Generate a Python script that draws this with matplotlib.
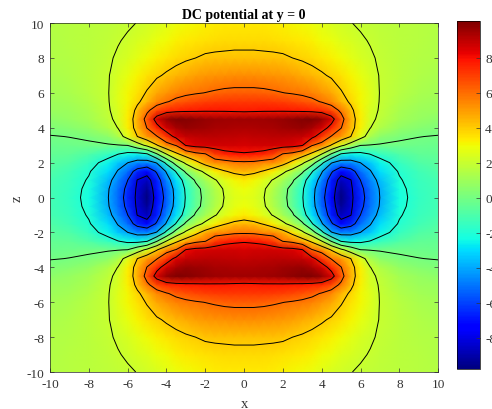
import numpy as np
import matplotlib
matplotlib.use("Agg")
import matplotlib.pyplot as plt

plt.rcParams['font.family'] = ['Liberation Serif', 'DejaVu Serif']
plt.rcParams['axes.unicode_minus'] = False

# the field is mirror symmetric in x and in z
x_q = [-10, -9, -8, -7, -6.5, -6, -5.5, -5, -4.5, -4, -3.5, -3, -2.5, -2, -1.5, -1, -0.5, 0]
z_q = [0, 0.5, 1, 1.5, 2, 2.5, 3, 3.5, 4, 4.5, 5, 5.5, 6, 7, 8, 9, 10]

v_z00 = [-1.2, -1.6, -2.3, -3.98, -5.2, -6.6, -8.4, -9.8, -7.2, -5.5, -3.5, -1.9, -0.6, 0.4, 1.3, 2.05, 2.5, 2.7]
v_z05 = [-1.2, -1.55, -2.25, -3.9, -5.1, -6.4, -8.3, -9.4, -7.0, -5.3, -3.4, -1.8, -0.5, 0.5, 1.4, 2.15, 2.65, 2.9]
v_z10 = [-1.1, -1.45, -2.1, -3.6, -4.7, -5.98, -8.05, -8.7, -6.8, -4.7, -2.95, -1.4, 0.2, 1.1, 1.9, 2.6, 3.1, 3.4]
v_z15 = [-0.9, -1.25, -1.9, -3.0, -4.1, -5.2, -6.6, -7.3, -5.8, -3.85, -1.9, 0.3, 1.4, 2.3, 3.2, 3.9, 4.3, 4.45]
v_z20 = [-0.65, -0.9, -1.5, -2.5, -3.4, -3.98, -4.6, -4.7, -3.9, -1.6, 0.8, 2.3, 3.5, 4.6, 5.3, 5.4, 5.7, 5.75]
v_z25 = [-0.45, -0.5, -0.9, -1.5, -1.95, -2.4, -2.5, -2.1, -0.1, 2.05, 3.7, 4.8, 5.6, 5.95, 7.0, 7.6, 7.8, 7.9]
v_z30 = [-0.25, -0.2, -0.15, -0.1, -0.05, 0.05, 1.2, 2.4, 3.9, 5.4, 6.1, 8.1, 8.5, 8.6, 8.7, 8.7, 8.65, 8.6]
v_z35 = [-0.05, 0.02, 0.15, 0.6, 1.3, 2.6, 4.0, 5.1, 5.9, 7.2, 8.4, 8.9, 9.0, 9.05, 9.05, 9.0, 8.95, 8.9]
v_z40 = [0.3, 0.45, 0.75, 1.4, 2.03, 3.2, 4.5, 6.05, 7.5, 8.7, 9.4, 9.7, 9.6, 9.5, 9.4, 9.35, 9.3, 9.3]
v_z45 = [0.6, 0.8, 1.1, 1.75, 2.3, 3.3, 4.6, 6.6, 8.6, 9.7, 10.1, 10.0, 9.8, 9.7, 9.6, 9.55, 9.5, 9.5]
v_z50 = [0.85, 1.0, 1.3, 1.9, 2.4, 3.2, 4.3, 5.7, 6.8, 7.4, 7.6, 7.7, 7.75, 7.8, 7.8, 7.8, 7.75, 7.7]
v_z55 = [1.0, 1.15, 1.45, 1.95, 2.5, 3.1, 3.8, 4.5, 5.4, 5.9, 6.3, 6.6, 6.8, 6.95, 7.05, 7.1, 7.1, 7.1]
v_z60 = [1.15, 1.3, 1.55, 1.97, 2.5, 3.05, 3.55, 4.1, 4.75, 5.2, 5.55, 5.75, 5.9, 6.02, 6.15, 6.25, 6.3, 6.3]
v_z70 = [1.3, 1.45, 1.65, 1.95, 2.35, 2.75, 3.15, 3.5, 3.85, 4.15, 4.45, 4.7, 4.9, 5.05, 5.15, 5.25, 5.3, 5.3]
v_z80 = [1.4, 1.5, 1.7, 1.9, 2.1, 2.4, 2.7, 2.95, 3.2, 3.45, 3.65, 3.85, 4.0, 4.15, 4.2, 4.22, 4.25, 4.25]
v_z90 = [1.45, 1.55, 1.7, 1.85, 1.95, 2.1, 2.35, 2.55, 2.8, 3.0, 3.2, 3.35, 3.45, 3.55, 3.62, 3.67, 3.7, 3.7]
v_z100 = [1.5, 1.55, 1.65, 1.75, 1.82, 1.9, 2.02, 2.2, 2.4, 2.6, 2.8, 2.95, 3.1, 3.2, 3.3, 3.35, 3.38, 3.4]

contour_levels = [-8, -6, -4, -2, 0, 2, 4, 6, 8]
cbar_ticks = [-8, -6, -4, -2, 0, 2, 4, 6, 8]
axis_ticks = [-10, -8, -6, -4, -2, 0, 2, 4, 6, 8, 10]

# build full grid by mirroring the quadrant
quad = np.array([v_z00, v_z05, v_z10, v_z15, v_z20, v_z25, v_z30, v_z35, v_z40,
                 v_z45, v_z50, v_z55, v_z60, v_z70, v_z80, v_z90, v_z100])
x_full = np.array(x_q + [-v for v in x_q[-2::-1]])
z_full = np.array([-v for v in z_q[:0:-1]] + z_q)
half = np.hstack([quad, quad[:, -2::-1]])
V = np.vstack([half[:0:-1], half])
X, Z = np.meshgrid(x_full, z_full)

fig = plt.figure(figsize=(4.92, 4.10), dpi=100)
ax = fig.add_axes([0.1016, 0.0902, 0.789, 0.851])
cax = fig.add_axes([0.929, 0.0976, 0.047, 0.8485])

mesh = ax.pcolormesh(X, Z, V, shading='gouraud', cmap='jet', vmin=-9.8, vmax=10.1)
ax.contour(X, Z, V, levels=contour_levels, colors='k', linewidths=0.7,
           linestyles='solid')

ax.set_xlim(-10, 10)
ax.set_ylim(-10, 10)
ax.set_xticks(axis_ticks)
ax.set_yticks(axis_ticks)
ax.tick_params(direction='in', top=True, right=True, length=3, width=0.5,
               labelsize=9.5, colors='#333333', pad=4)
for s in ax.spines.values():
    s.set_linewidth(0.5)
    s.set_color('#262626')

ax.set_title('DC potential at y = 0', fontsize=10, fontweight='bold', pad=4)
ax.set_xlabel('x', fontsize=10.5, color='#333333', labelpad=5)
ax.set_ylabel('z', fontsize=10.5, color='#333333', labelpad=2)

cb = fig.colorbar(mesh, cax=cax, ticks=cbar_ticks)
cb.ax.tick_params(direction='in', length=3, width=0.5, labelsize=9.5,
                  colors='#333333')
cb.outline.set_linewidth(0.5)

fig.savefig('out.png', dpi=100)
